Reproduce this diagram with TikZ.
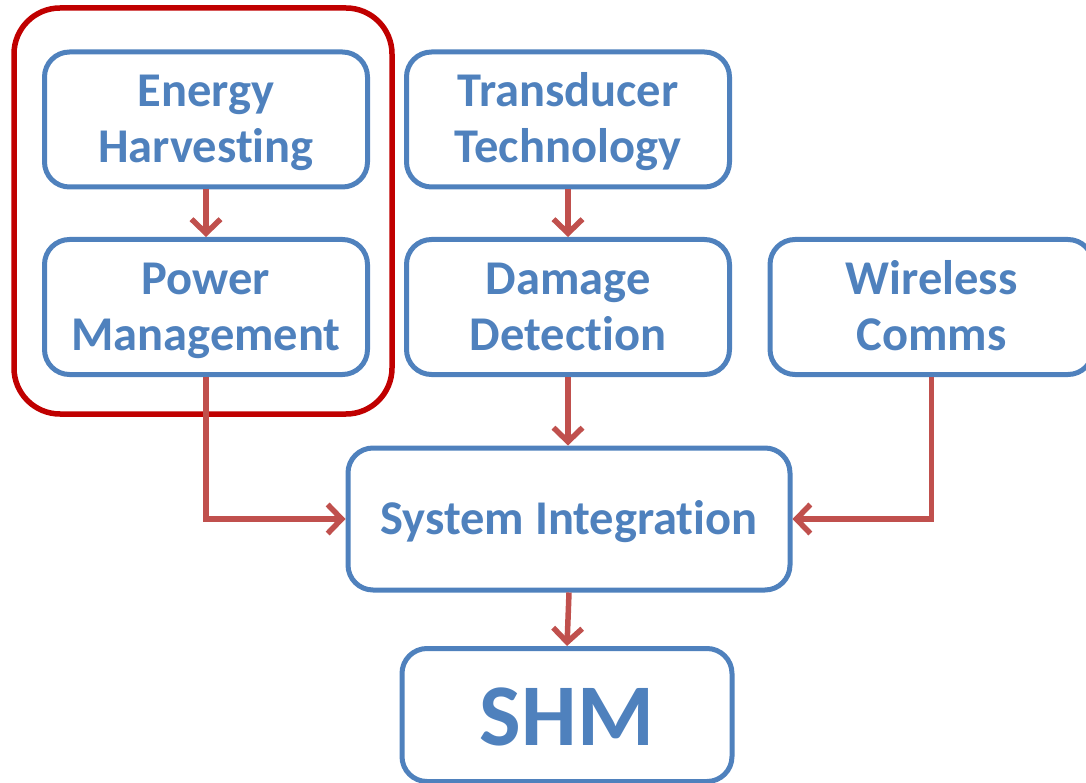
\documentclass[tikz,border=0pt]{standalone}
\usepackage{fontspec}
\newfontfamily\calfont{Carlito}[Ligatures=NoCommon]
\usetikzlibrary{arrows.meta}

\definecolor{boxblue}{HTML}{4F81BD}
\definecolor{arrowred}{HTML}{C0504D}
\definecolor{groupred}{HTML}{C00000}

\begin{document}
\begin{tikzpicture}[x=1pt, y=-1pt,
        block/.style={draw=boxblue, line width=5pt, rounded corners=25pt,
            minimum width=323pt, minimum height=135pt, align=center,
            text height=97pt, text depth=10pt, text=boxblue,
            font=\calfont\bfseries\fontsize{48.5}{56}\selectfont},
        flow/.style={draw=arrowred, line width=5.5pt,
            -{Straight Barb[length=14pt, width=29pt]}}]
        \useasboundingbox (0,0) rectangle (1086,783);
        % ==== GROUP FRAME ====
        \draw[groupred, line width=5.5pt, rounded corners=46pt] (14,8) rectangle (392,414);
        % ==== BLOCKS ====
        \node[block] (eh) at (206,119.5) {Energy\\Harvesting};
        \node[block] (pm) at (206,307) {Power\\Management};
        \node[block] (tt) at (568,119.5) {Transducer\\Technology};
        \node[block] (dd) at (568,307) {Damage\\Detection};
        \node[block] (wc) at (931.5,307) {Wireless\\Comms};
        \node[block, minimum width=442pt, minimum height=142pt, text height=41pt] (si) at (569,519) {System Integration};
        \node[block, minimum width=330pt, minimum height=133pt, text height=60pt, text depth=0pt,
            font=\calfont\bfseries\fontsize{88}{100}\selectfont] (shm) at (567,715) {SHM};
        % ==== ARROWS ====
        \draw[flow] (eh) -- (pm);
        \draw[flow] (tt) -- (dd);
        \draw[flow] (dd.south) -- (dd.south |- si.north);
        \draw[flow] (si.south) -- (shm.north);
        \draw[flow] (pm.south) |- (si.west);
        \draw[flow] (wc.south) |- (si.east);
\end{tikzpicture}
\end{document}
